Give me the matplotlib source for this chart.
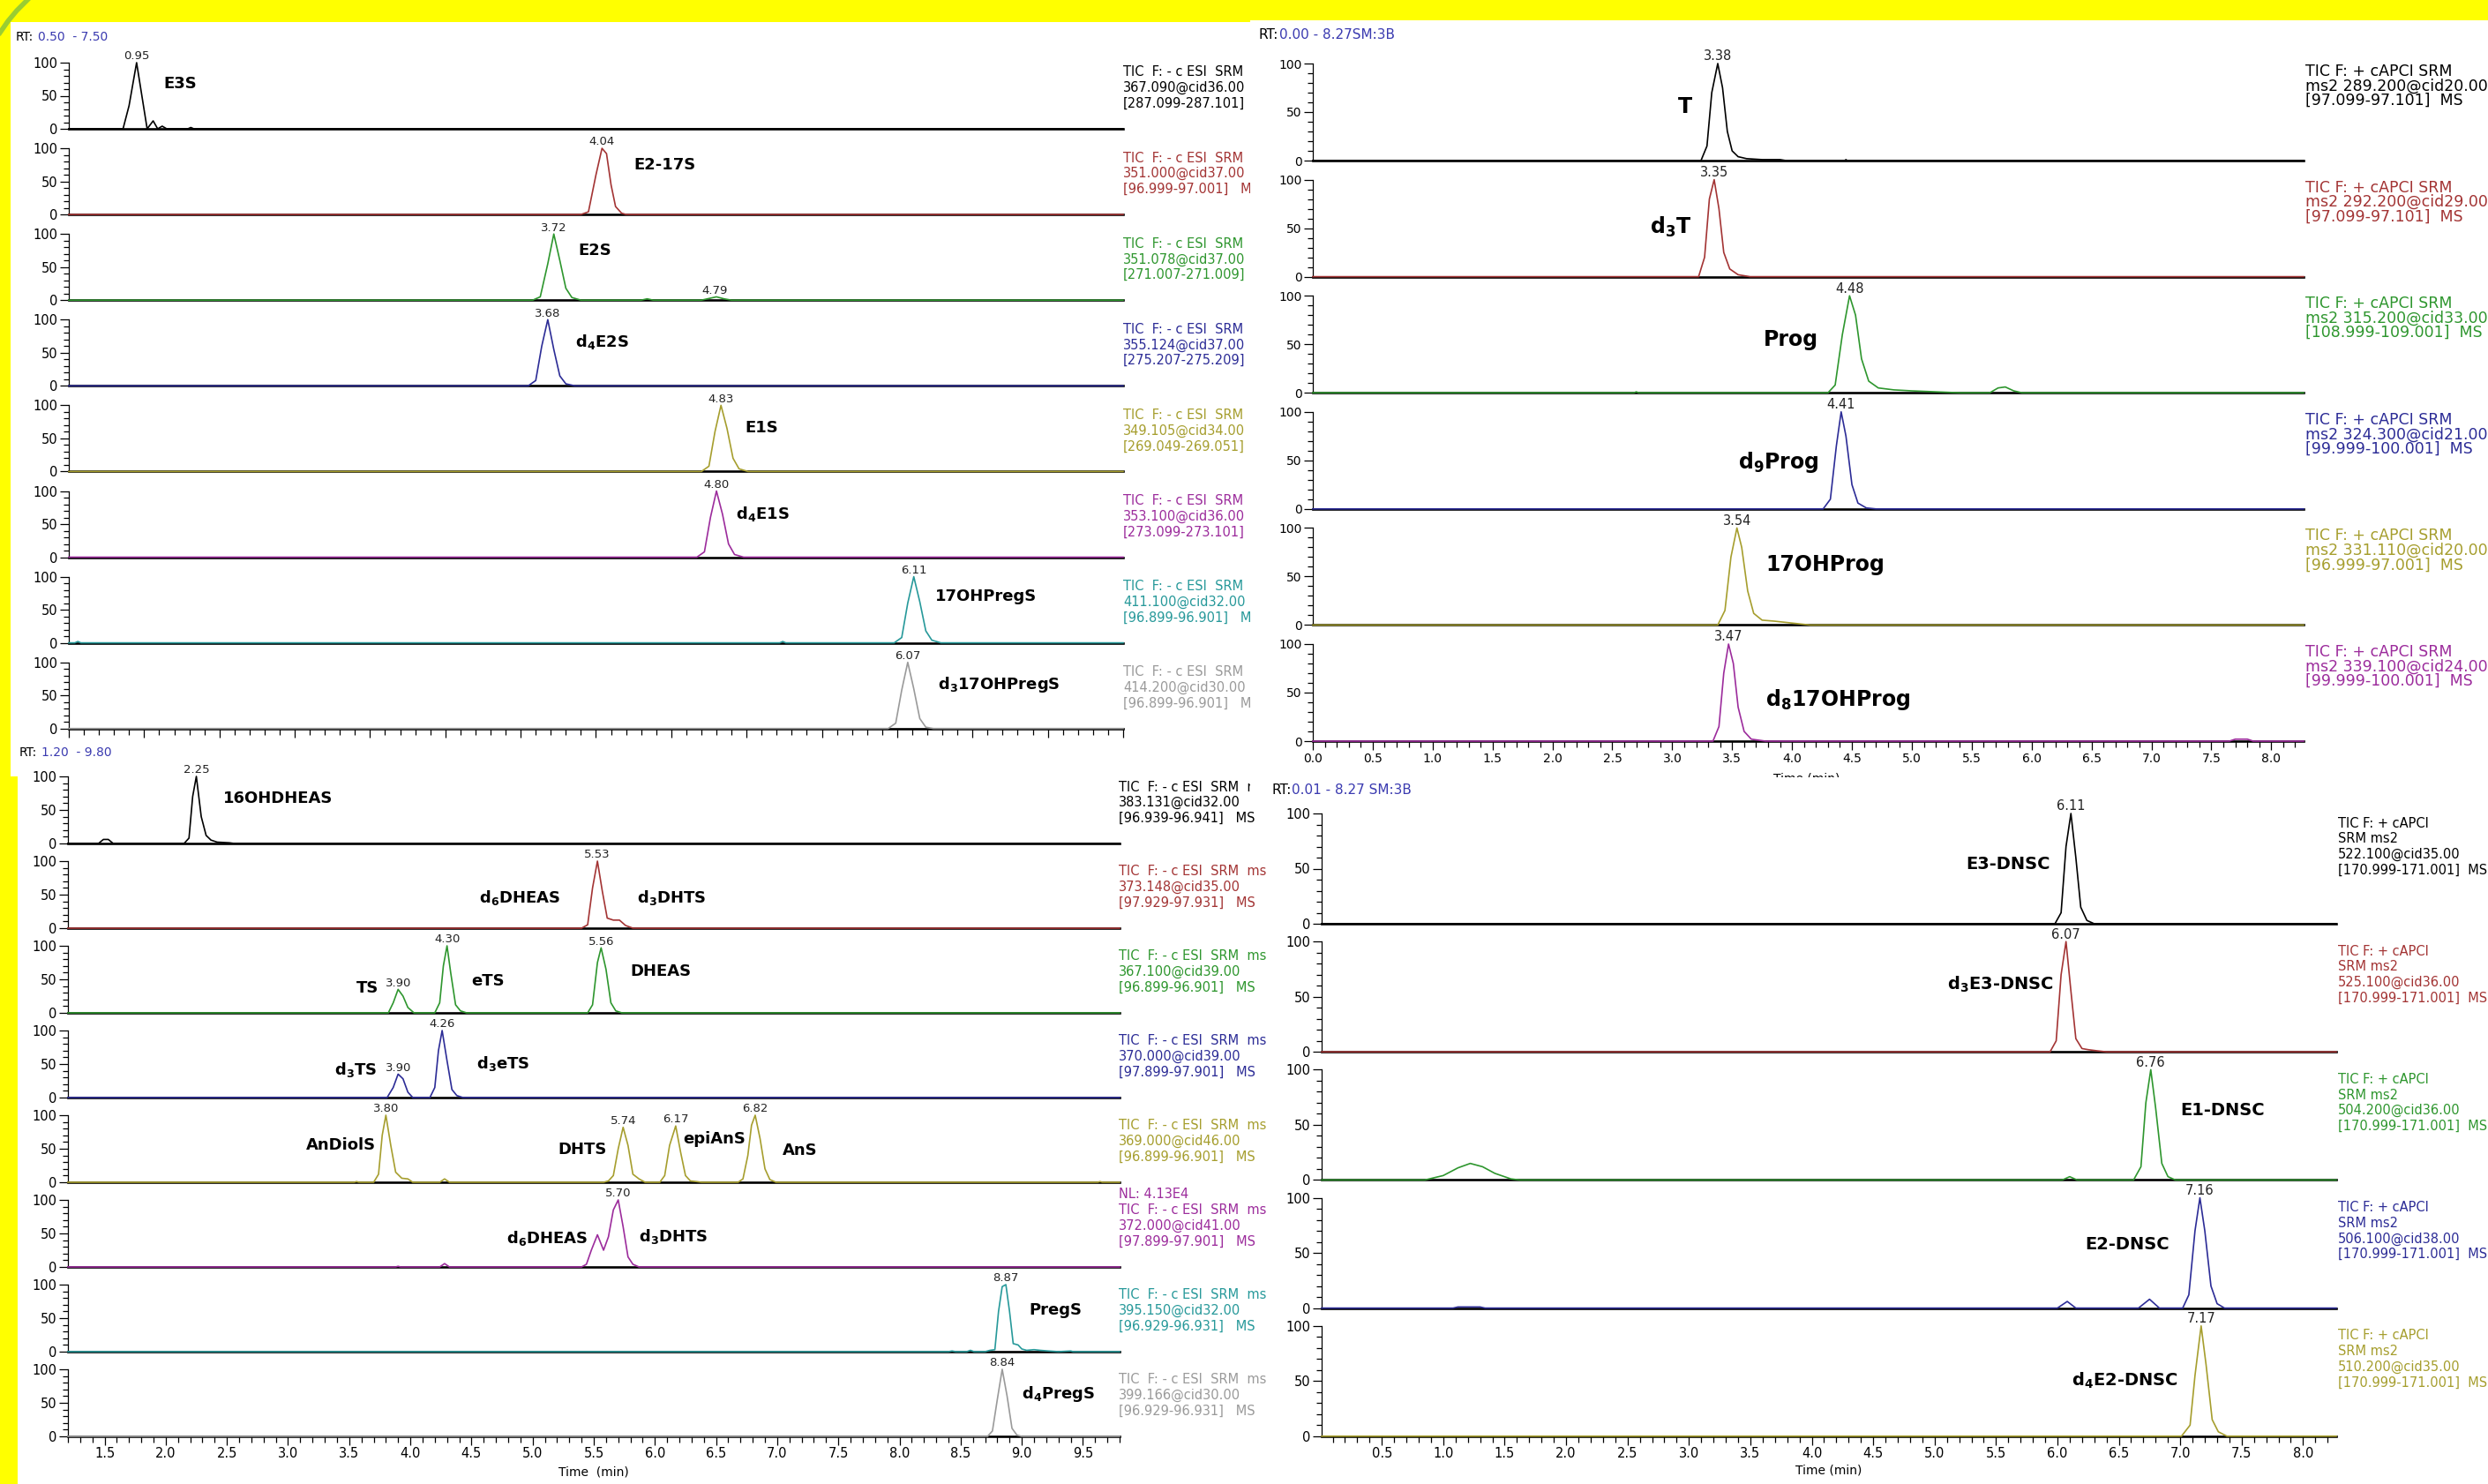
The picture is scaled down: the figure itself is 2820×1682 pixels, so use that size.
import matplotlib
matplotlib.use("Agg")
import matplotlib.pyplot as plt
from matplotlib.patches import Rectangle
from matplotlib.lines import Line2D
from matplotlib.ticker import MultipleLocator, FormatStrFormatter

# ====================== DATA ======================
# ---- top-left panel (RT 0.50 - 7.50) : (time, relative abundance) ----
TL_E3S = [(0.50, 0), (0.86, 0), (0.90, 35), (0.95, 100), (1.02, 0), (1.06, 12), (1.09, 0),
          (1.12, 4), (1.15, 0), (1.29, 0), (1.31, 2), (1.33, 0), (7.50, 0)]
TL_E2_17S = [(0.50, 0), (3.90, 0), (3.95, 4), (4.00, 60), (4.04, 100), (4.07, 92), (4.10, 45),
             (4.13, 12), (4.17, 2), (4.20, 0), (7.50, 0)]
TL_E2S = [(0.50, 0), (3.58, 0), (3.63, 5), (3.68, 55), (3.72, 100), (3.76, 60), (3.80, 18),
          (3.84, 4), (3.90, 0), (4.30, 0), (4.34, 2), (4.38, 0), (4.70, 0), (4.76, 3), (4.80, 5),
          (4.85, 2), (4.90, 0), (7.50, 0)]
TL_D4E2S = [(0.50, 0), (3.55, 0), (3.60, 8), (3.64, 60), (3.68, 100), (3.72, 55), (3.76, 15),
            (3.80, 3), (3.86, 0), (7.50, 0)]
TL_E1S = [(0.50, 0), (4.70, 0), (4.75, 8), (4.79, 60), (4.83, 100), (4.87, 65), (4.91, 20),
          (4.95, 4), (5.01, 0), (7.50, 0)]
TL_D4E1S = [(0.50, 0), (4.67, 0), (4.72, 8), (4.76, 60), (4.80, 100), (4.84, 65), (4.88, 20),
            (4.92, 4), (4.98, 0), (7.50, 0)]
TL_17OHPREGS = [(0.50, 0), (0.54, 0), (0.56, 2), (0.58, 0), (5.22, 0), (5.24, 2), (5.26, 0),
                (5.98, 0), (6.03, 8), (6.07, 60), (6.11, 100), (6.15, 62), (6.19, 18), (6.23, 4),
                (6.29, 0), (7.50, 0)]
TL_D317OHPREGS = [(0.50, 0), (5.94, 0), (5.99, 8), (6.03, 58), (6.07, 100), (6.11, 60),
                  (6.15, 15), (6.19, 2), (6.24, 0), (7.50, 0)]
TL_TRACES = [TL_E3S, TL_E2_17S, TL_E2S, TL_D4E2S, TL_E1S, TL_D4E1S, TL_17OHPREGS, TL_D317OHPREGS]
TL_NAMES = [["E3S"], ["E2-17S"], ["E2S"], [r"d$\mathregular{_4}$E2S"], ["E1S"],
            [r"d$\mathregular{_4}$E1S"], ["17OHPregS"], [r"d$\mathregular{_3}$17OHPregS"]]
TL_RT = [[("0.95", 0.95, 100)], [("4.04", 4.04, 100)], [("3.72", 3.72, 100), ("4.79", 4.79, 5)],
         [("3.68", 3.68, 100)], [("4.83", 4.83, 100)], [("4.80", 4.80, 100)],
         [("6.11", 6.11, 100)], [("6.07", 6.07, 100)]]
TL_INFO = [["TIC  F: - c ESI  SRM", "367.090@cid36.00", "[287.099-287.101]"],
           ["TIC  F: - c ESI  SRM", "351.000@cid37.00", "[96.999-97.001]   MS"],
           ["TIC  F: - c ESI  SRM", "351.078@cid37.00", "[271.007-271.009]"],
           ["TIC  F: - c ESI  SRM", "355.124@cid37.00", "[275.207-275.209]"],
           ["TIC  F: - c ESI  SRM", "349.105@cid34.00", "[269.049-269.051]"],
           ["TIC  F: - c ESI  SRM", "353.100@cid36.00", "[273.099-273.101]"],
           ["TIC  F: - c ESI  SRM", "411.100@cid32.00", "[96.899-96.901]   MS"],
           ["TIC  F: - c ESI  SRM", "414.200@cid30.00", "[96.899-96.901]   MS"]]

# ---- bottom-left panel (RT 1.20 - 9.80) ----
BL_16OHDHEAS = [(1.20, 0), (1.45, 0), (1.49, 6), (1.53, 6), (1.57, 0), (2.15, 0), (2.19, 8),
                (2.22, 70), (2.25, 100), (2.29, 40), (2.33, 12), (2.37, 5), (2.42, 2), (2.52, 1),
                (2.56, 0), (9.80, 0)]
BL_D6DHEAS = [(1.20, 0), (5.40, 0), (5.45, 5), (5.49, 60), (5.53, 100), (5.57, 55), (5.61, 15),
              (5.66, 12), (5.71, 12), (5.76, 4), (5.82, 0), (9.80, 0)]
BL_367 = [(1.20, 0), (3.82, 0), (3.86, 15), (3.90, 35), (3.94, 25), (3.98, 8), (4.03, 0),
          (4.20, 0), (4.24, 15), (4.27, 70), (4.30, 100), (4.33, 60), (4.37, 12), (4.41, 3),
          (4.46, 0), (5.45, 0), (5.49, 12), (5.53, 75), (5.56, 97), (5.60, 65), (5.64, 15),
          (5.68, 3), (5.73, 0), (9.80, 0)]
BL_370 = [(1.20, 0), (3.81, 0), (3.86, 15), (3.90, 35), (3.94, 28), (3.98, 8), (4.02, 0),
          (4.16, 0), (4.20, 15), (4.23, 70), (4.26, 100), (4.30, 55), (4.34, 12), (4.38, 3),
          (4.43, 0), (9.80, 0)]
BL_369 = [(1.20, 0), (3.54, 0), (3.56, 1), (3.58, 0), (3.70, 0), (3.74, 12), (3.77, 70),
          (3.80, 100), (3.84, 55), (3.88, 15), (3.93, 6), (3.98, 5), (4.02, 0), (4.24, 0),
          (4.28, 5), (4.32, 0), (5.58, 0), (5.62, 2), (5.66, 10), (5.70, 50), (5.74, 82),
          (5.78, 55), (5.82, 12), (5.87, 5), (5.92, 0), (6.04, 0), (6.08, 10), (6.12, 55),
          (6.17, 84), (6.21, 45), (6.25, 10), (6.29, 2), (6.34, 1), (6.38, 0), (6.68, 0),
          (6.72, 5), (6.76, 40), (6.79, 85), (6.82, 100), (6.86, 65), (6.90, 20), (6.94, 4),
          (6.99, 0), (9.62, 0), (9.64, 1), (9.66, 0), (9.80, 0)]
BL_372 = [(1.20, 0), (3.88, 0), (3.90, 1), (3.92, 0), (4.24, 0), (4.28, 5), (4.32, 0),
          (5.40, 0), (5.44, 4), (5.48, 25), (5.53, 48), (5.58, 25), (5.62, 45), (5.66, 85),
          (5.70, 100), (5.74, 60), (5.78, 15), (5.82, 4), (5.87, 0), (9.80, 0)]
BL_PREGS = [(1.20, 0), (8.40, 0), (8.43, 1), (8.46, 0), (8.55, 0), (8.58, 2), (8.61, 0),
            (8.70, 0), (8.74, 2), (8.78, 3), (8.81, 60), (8.84, 97), (8.87, 100), (8.90, 60),
            (8.93, 12), (8.97, 10), (9.00, 4), (9.04, 2), (9.10, 3), (9.15, 2), (9.22, 1),
            (9.30, 0), (9.40, 1), (9.42, 0), (9.80, 0)]
BL_D4PREGS = [(1.20, 0), (8.72, 0), (8.76, 8), (8.80, 55), (8.84, 100), (8.88, 60), (8.92, 12),
              (8.96, 2), (9.00, 0), (9.80, 0)]
BL_TRACES = [BL_16OHDHEAS, BL_D6DHEAS, BL_367, BL_370, BL_369, BL_372, BL_PREGS, BL_D4PREGS]
BL_NAMES = [["16OHDHEAS"],
            [r"d$\mathregular{_6}$DHEAS", r"d$\mathregular{_3}$DHTS"],
            ["TS", "eTS", "DHEAS"],
            [r"d$\mathregular{_3}$TS", r"d$\mathregular{_3}$eTS"],
            ["AnDiolS", "DHTS", "epiAnS", "AnS"],
            [r"d$\mathregular{_6}$DHEAS", r"d$\mathregular{_3}$DHTS"],
            ["PregS"], [r"d$\mathregular{_4}$PregS"]]
BL_RT = [[("2.25", 2.25, 100)], [("5.53", 5.53, 100)],
         [("3.90", 3.90, 35), ("4.30", 4.30, 100), ("5.56", 5.56, 97)],
         [("3.90", 3.90, 35), ("4.26", 4.26, 100)],
         [("3.80", 3.80, 100), ("5.74", 5.74, 82), ("6.17", 6.17, 84), ("6.82", 6.82, 100)],
         [("5.70", 5.70, 100)], [("8.87", 8.87, 100)], [("8.84", 8.84, 100)]]
BL_INFO = [["TIC  F: - c ESI  SRM  ms2", "383.131@cid32.00", "[96.939-96.941]   MS"],
           ["TIC  F: - c ESI  SRM  ms2", "373.148@cid35.00", "[97.929-97.931]   MS"],
           ["TIC  F: - c ESI  SRM  ms2", "367.100@cid39.00", "[96.899-96.901]   MS"],
           ["TIC  F: - c ESI  SRM  ms2", "370.000@cid39.00", "[97.899-97.901]   MS"],
           ["TIC  F: - c ESI  SRM  ms2", "369.000@cid46.00", "[96.899-96.901]   MS"],
           ["TIC  F: - c ESI  SRM  ms2", "372.000@cid41.00", "[97.899-97.901]   MS"],
           ["TIC  F: - c ESI  SRM  ms2", "395.150@cid32.00", "[96.929-96.931]   MS"],
           ["TIC  F: - c ESI  SRM  ms2", "399.166@cid30.00", "[96.929-96.931]   MS"]]
BL_NL = "NL: 4.13E4"

# ---- top-right panel (RT 0.00 - 8.27) ----
TR_T = [(0.00, 0), (3.24, 0), (3.29, 15), (3.33, 70), (3.38, 100), (3.42, 75), (3.46, 30),
        (3.50, 10), (3.55, 4), (3.62, 2), (3.75, 1), (3.90, 1), (3.95, 0), (4.44, 0), (4.45, 1),
        (4.46, 0), (8.27, 0)]
TR_D3T = [(0.00, 0), (3.22, 0), (3.27, 20), (3.31, 80), (3.35, 100), (3.39, 70), (3.43, 25),
          (3.48, 8), (3.55, 2), (3.65, 0), (8.27, 0)]
TR_PROG = [(0.00, 0), (2.68, 0), (2.70, 1), (2.72, 0), (4.30, 0), (4.36, 8), (4.42, 60),
           (4.48, 100), (4.53, 80), (4.58, 35), (4.64, 12), (4.72, 5), (4.85, 3), (5.00, 2),
           (5.20, 1), (5.40, 0), (5.65, 0), (5.72, 5), (5.78, 6), (5.85, 2), (5.92, 0), (8.27, 0)]
TR_D9PROG = [(0.00, 0), (4.26, 0), (4.32, 10), (4.37, 65), (4.41, 100), (4.45, 75), (4.50, 25),
             (4.55, 6), (4.62, 1), (4.70, 0), (8.27, 0)]
TR_17OHPROG = [(0.00, 0), (3.38, 0), (3.44, 15), (3.49, 70), (3.54, 100), (3.58, 80),
               (3.63, 35), (3.68, 12), (3.75, 5), (3.85, 4), (4.00, 2), (4.15, 0), (8.27, 0)]
TR_D817OHPROG = [(0.00, 0), (3.34, 0), (3.39, 15), (3.43, 70), (3.47, 100), (3.51, 80),
                 (3.55, 35), (3.60, 10), (3.66, 2), (3.72, 1), (3.78, 0), (7.65, 0), (7.70, 2),
                 (7.80, 2), (7.85, 0), (8.27, 0)]
TR_TRACES = [TR_T, TR_D3T, TR_PROG, TR_D9PROG, TR_17OHPROG, TR_D817OHPROG]
TR_NAMES = [["T"], [r"d$\mathregular{_3}$T"], ["Prog"], [r"d$\mathregular{_9}$Prog"],
            ["17OHProg"], [r"d$\mathregular{_8}$17OHProg"]]
TR_RT = [[("3.38", 3.38, 100)], [("3.35", 3.35, 100)], [("4.48", 4.48, 100)],
         [("4.41", 4.41, 100)], [("3.54", 3.54, 100)], [("3.47", 3.47, 100)]]
TR_INFO = [["TIC F: + cAPCI SRM", "ms2 289.200@cid20.00", "[97.099-97.101]  MS"],
           ["TIC F: + cAPCI SRM", "ms2 292.200@cid29.00", "[97.099-97.101]  MS"],
           ["TIC F: + cAPCI SRM", "ms2 315.200@cid33.00", "[108.999-109.001]  MS"],
           ["TIC F: + cAPCI SRM", "ms2 324.300@cid21.00", "[99.999-100.001]  MS"],
           ["TIC F: + cAPCI SRM", "ms2 331.110@cid20.00", "[96.999-97.001]  MS"],
           ["TIC F: + cAPCI SRM", "ms2 339.100@cid24.00", "[99.999-100.001]  MS"]]

# ---- bottom-right panel (RT 0.01 - 8.27) ----
BR_E3 = [(0.01, 0), (5.98, 0), (6.03, 10), (6.07, 70), (6.11, 100), (6.15, 60), (6.19, 15),
         (6.24, 3), (6.30, 0), (8.27, 0)]
BR_D3E3 = [(0.01, 0), (5.94, 0), (5.99, 10), (6.03, 70), (6.07, 100), (6.11, 55), (6.15, 12),
           (6.20, 3), (6.25, 2), (6.32, 1), (6.40, 0), (8.27, 0)]
BR_E1 = [(0.01, 0), (0.85, 0), (1.00, 4), (1.12, 11), (1.22, 15), (1.32, 12), (1.42, 6),
         (1.55, 1), (1.62, 0), (6.04, 0), (6.10, 3), (6.16, 0), (6.62, 0), (6.68, 12),
         (6.72, 70), (6.76, 100), (6.80, 65), (6.85, 15), (6.90, 3), (6.96, 0), (8.27, 0)]
BR_E2 = [(0.01, 0), (1.08, 0), (1.12, 1), (1.30, 1), (1.34, 0), (6.00, 0), (6.08, 6),
         (6.15, 0), (6.66, 0), (6.75, 8), (6.83, 0), (7.02, 0), (7.07, 12), (7.12, 70),
         (7.16, 100), (7.20, 70), (7.25, 20), (7.30, 4), (7.36, 0), (8.27, 0)]
BR_D4E2 = [(0.01, 0), (7.01, 0), (7.08, 10), (7.12, 55), (7.17, 100), (7.21, 65), (7.26, 15),
           (7.31, 4), (7.38, 0), (8.27, 0)]
BR_TRACES = [BR_E3, BR_D3E3, BR_E1, BR_E2, BR_D4E2]
BR_NAMES = [["E3-DNSC"], [r"d$\mathregular{_3}$E3-DNSC"], ["E1-DNSC"], ["E2-DNSC"],
            [r"d$\mathregular{_4}$E2-DNSC"]]
BR_RT = [[("6.11", 6.11, 100)], [("6.07", 6.07, 100)], [("6.76", 6.76, 100)],
         [("7.16", 7.16, 100)], [("7.17", 7.17, 100)]]
BR_INFO = [["TIC F: + cAPCI", "SRM ms2", "522.100@cid35.00", "[170.999-171.001]  MS"],
           ["TIC F: + cAPCI", "SRM ms2", "525.100@cid36.00", "[170.999-171.001]  MS"],
           ["TIC F: + cAPCI", "SRM ms2", "504.200@cid36.00", "[170.999-171.001]  MS"],
           ["TIC F: + cAPCI", "SRM ms2", "506.100@cid38.00", "[170.999-171.001]  MS"],
           ["TIC F: + cAPCI", "SRM ms2", "510.200@cid35.00", "[170.999-171.001]  MS"]]

# ====================== STYLE / LAYOUT ======================
C_BLACK, C_RED, C_GREEN, C_BLUE = "#000000", "#a33434", "#2e962e", "#2c2c96"
C_OLIVE, C_PURPLE, C_TEAL, C_GRAY = "#a69e2e", "#9c2c9c", "#27999a", "#9a9a9a"
C_HDR = "#3a3ab0"
TL_COLORS = [C_BLACK, C_RED, C_GREEN, C_BLUE, C_OLIVE, C_PURPLE, C_TEAL, C_GRAY]
BL_COLORS = [C_BLACK, C_RED, C_GREEN, C_BLUE, C_OLIVE, C_PURPLE, C_TEAL, C_GRAY]
TR_COLORS = [C_BLACK, C_RED, C_GREEN, C_BLUE, C_OLIVE, C_PURPLE]
BR_COLORS = [C_BLACK, C_RED, C_GREEN, C_BLUE, C_OLIVE]

# label placement (time, % height, alignment)
TL_LPOS = [[(1.13, 68, "left")], [(4.25, 75, "left")], [(3.88, 75, "left")],
           [(3.86, 67, "left")], [(4.99, 66, "left")], [(4.93, 66, "left")],
           [(6.25, 70, "left")], [(6.27, 66, "left")]]
BL_LPOS = [[(2.47, 67, "left")],
           [(4.56, 46, "left"), (5.85, 45, "left")],
           [(3.74, 37, "right"), (4.50, 47, "left"), (5.80, 62, "left")],
           [(3.73, 41, "right"), (4.54, 50, "left")],
           [(3.72, 55, "right"), (5.61, 49, "right"), (6.23, 64, "left"), (7.04, 47, "left")],
           [(5.45, 43, "right"), (5.87, 45, "left")],
           [(9.06, 62, "left")], [(9.00, 63, "left")]]
TR_LPOS = [[(3.17, 55, "right")], [(3.16, 51, "right")], [(4.22, 55, "right")],
           [(4.22, 48, "right")], [(3.78, 62, "left")], [(3.78, 43, "left")]]
BR_LPOS = [[(5.94, 54, "right")], [(5.97, 61, "right")], [(7.00, 63, "left")],
           [(6.91, 58, "right")], [(6.98, 50, "right")]]

W, H, DPI = 2820, 1682, 100
fig = plt.figure(figsize=(W / DPI, H / DPI), dpi=DPI)
fig.patch.set_facecolor("#ffff00")
renderer = fig.canvas.get_renderer()


def fx(px):
    return px / W


def fy(py):
    return 1 - py / H


def white_rect(x0, y0, x1, y1, z):
    fig.add_artist(Rectangle((fx(x0), fy(y1)), (x1 - x0) / W, (y1 - y0) / H,
                             transform=fig.transFigure, facecolor="white",
                             edgecolor="none", zorder=z))


def header(x, y, parts, size, z, gap):
    cur = x
    for txt, col in parts:
        t = fig.text(fx(cur), fy(y), txt, fontsize=size, color=col, ha="left",
                     va="center", zorder=z)
        bb = t.get_window_extent(renderer=renderer)
        cur += bb.width + gap


def panel(x0, x1, tops, bottoms, xlim, traces, colors, names, lpos, rts, z,
          tick_fs, rt_fs, name_fs, show_xlabels):
    axes = []
    n = len(traces)
    for k in range(n):
        last = (k == n - 1)
        ax = fig.add_axes([fx(x0), fy(bottoms[k]), (x1 - x0) / W,
                           (bottoms[k] - tops[k]) / H])
        ax.set_zorder(z)
        ax.patch.set_visible(False)
        ax.set_xlim(*xlim)
        ax.set_ylim(0, 100)
        ax.spines["top"].set_visible(False)
        ax.spines["right"].set_visible(False)
        ax.spines["left"].set_linewidth(0.9)
        ax.spines["bottom"].set_linewidth(1.9)
        ax.set_yticks([0, 50, 100])
        ax.yaxis.set_minor_locator(MultipleLocator(10))
        ax.tick_params(axis="y", which="major", direction="out", length=7, width=0.9,
                       labelsize=tick_fs, pad=2)
        ax.tick_params(axis="y", which="minor", direction="out", length=4.5, width=0.9)
        if last:
            ax.xaxis.set_major_locator(MultipleLocator(0.5))
            ax.xaxis.set_minor_locator(MultipleLocator(0.1))
            ax.xaxis.set_major_formatter(FormatStrFormatter("%.1f"))
            ax.tick_params(axis="x", which="major", direction="out", length=7, width=0.9,
                           labelsize=tick_fs, labelbottom=show_xlabels, pad=2)
            ax.tick_params(axis="x", which="minor", direction="out", length=5, width=0.9)
        else:
            ax.tick_params(axis="x", which="both", bottom=False, labelbottom=False)
        ts = [p[0] for p in traces[k]]
        ys = [p[1] for p in traces[k]]
        ax.plot(ts, ys, color=colors[k], lw=1.2, clip_on=False, zorder=3)
        for (s, t, h) in rts[k]:
            ax.annotate(s, (t, h), xytext=(0, 0.5), textcoords="offset points",
                        ha="center", va="bottom", fontsize=rt_fs, color="#222222",
                        annotation_clip=False)
        for name, (t, yp, ha) in zip(names[k], lpos[k]):
            ax.text(t, yp, name, ha=ha, va="center", fontsize=name_fs,
                    fontweight="bold", color="black", clip_on=False)
        axes.append(ax)
    return axes


def info(x, y0, step, row_step, blocks, colors, size, z):
    for k, lines in enumerate(blocks):
        for j, line in enumerate(lines):
            fig.text(fx(x), fy(y0 + k * row_step + j * step), line, fontsize=size,
                     color=colors[k], ha="left", va="center", zorder=z)


# ---------------- backgrounds ----------------
white_rect(12, 25, 1417, 880, 1)
white_rect(20, 838, 1435, H, 4)
white_rect(1417, 23, W, 905, 7)
white_rect(1435, 881, W, H, 10)
fig.add_artist(Line2D([fx(0), fx(9), fx(19), fx(31)], [fy(37), fy(24), fy(12), fy(0)],
                      transform=fig.transFigure, color="#9acd32", lw=4, zorder=20))

# ---------------- top-left ----------------
tl_tops = [71 + 97.1 * k for k in range(8)]
tl_bots = [146 + 97.1 * k for k in range(8)]
panel(78, 1273, tl_tops, tl_bots, (0.5, 7.5), TL_TRACES, TL_COLORS, TL_NAMES, TL_LPOS,
      TL_RT, 2, 10.5, 9.5, 13, False)
header(18, 42, [("RT:", "black"), ("0.50  - 7.50", C_HDR)], 10, 3, 5)
info(1273, 82, 17.7, 97.1, TL_INFO, TL_COLORS, 10.5, 3)

# ---------------- bottom-left ----------------
bl_tops = [880 + 96.0 * k for k in range(8)]
bl_bots = [956 + 96.0 * k for k in range(8)]
panel(77, 1269, bl_tops, bl_bots, (1.2, 9.8), BL_TRACES, BL_COLORS, BL_NAMES, BL_LPOS,
      BL_RT, 5, 10.5, 9.5, 13, True)
header(22, 853, [("RT:", "black"), ("1.20  - 9.80", C_HDR)], 10, 6, 5)
info(1268, 892, 17.5, 96.0, BL_INFO, BL_COLORS, 10.5, 6)
fig.text(fx(1268), fy(892 + 5 * 96.0 - 19), BL_NL, fontsize=10.5, color=C_PURPLE,
         ha="left", va="center", zorder=6)
fig.text(fx(673), fy(1668), "Time  (min)", fontsize=10, ha="center", va="center", zorder=6)

# ---------------- top-right ----------------
tr_tops = [72 + 131.6 * k for k in range(6)]
tr_bots = [182 + 131.6 * k for k in range(6)]
panel(1488, 2611, tr_tops, tr_bots, (0.0, 8.27), TR_TRACES, TR_COLORS, TR_NAMES, TR_LPOS,
      TR_RT, 8, 10, 10.5, 17, True)
header(1427, 40, [("RT:", "black"), ("0.00 - 8.27SM:3B", C_HDR)], 11, 9, 1)
info(2613, 81, 16.5, 131.6, TR_INFO, TR_COLORS, 12.5, 9)
fig.text(fx(2048), fy(875), "Time (min)", fontsize=10, ha="center", va="top", zorder=9)

# ---------------- bottom-right ----------------
br_tops = [922 + 145.2 * k for k in range(5)]
br_bots = [1047 + 145.2 * k for k in range(5)]
panel(1498, 2648, br_tops, br_bots, (0.01, 8.27), BR_TRACES, BR_COLORS, BR_NAMES, BR_LPOS,
      BR_RT, 11, 10.5, 10.5, 14, True)
header(1441, 895, [("RT:", "black"), ("0.01 - 8.27 SM:3B", C_HDR)], 11, 12, 1)
info(2650, 933, 17.7, 145.2, BR_INFO, BR_COLORS, 10.5, 12)
fig.text(fx(2073), fy(1667), "Time (min)", fontsize=10, ha="center", va="center", zorder=12)

fig.savefig("out.png", dpi=DPI, facecolor=fig.get_facecolor())
